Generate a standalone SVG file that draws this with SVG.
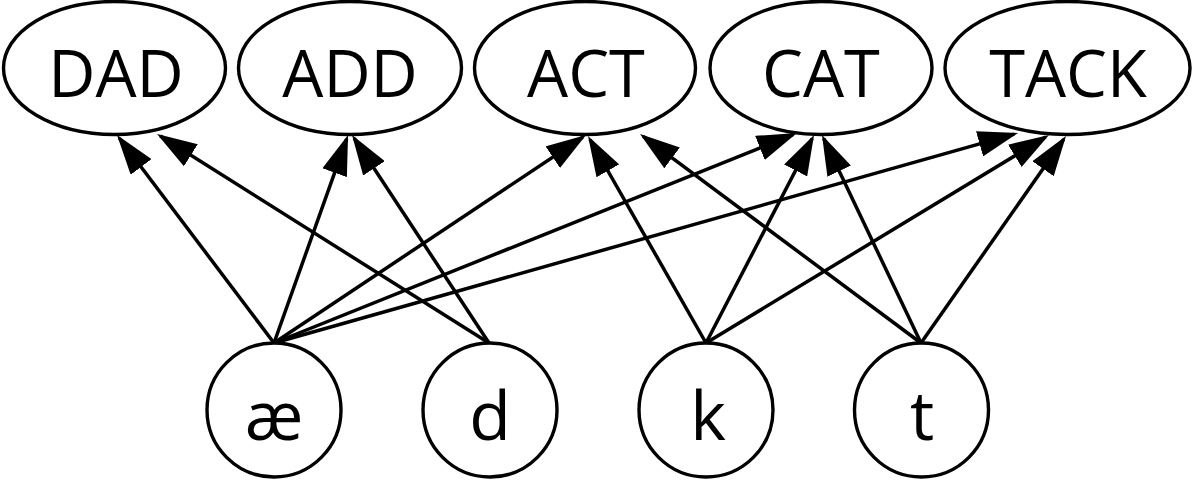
<svg xmlns="http://www.w3.org/2000/svg" width="1192" height="483" viewBox="0 0 1192 483">
  <defs>
    <marker id="arrow" markerUnits="userSpaceOnUse" markerWidth="40" markerHeight="26" viewBox="0 0 40 26" refX="36" refY="13" orient="auto">
      <path d="M0,0 L40,13 L0,26 z" fill="#000"/>
    </marker>
    <style>
      .node { fill: #fff; stroke: #000; stroke-width: 3.4; }
      .lbl { font-family: "Open Sans", "Noto Sans", "Liberation Sans", sans-serif; fill: #000; text-anchor: middle; }
      .word { font-size: 65px; }
      .phon { font-size: 68px; }
      .edge { stroke: #000; stroke-width: 3.5; fill: none; marker-end: url(#arrow); }
    </style>
  </defs>
  <rect width="1192" height="483" fill="#fff"/>
  <g id="connectors">
    <line class="edge" x1="274" y1="343" x2="119.4" y2="138.2"/>
    <line class="edge" x1="489" y1="343" x2="160.4" y2="136.1"/>
    <line class="edge" x1="274" y1="343" x2="346.7" y2="138.8"/>
    <line class="edge" x1="489" y1="343" x2="354.2" y2="138.3"/>
    <line class="edge" x1="274" y1="343" x2="582.7" y2="137.2"/>
    <line class="edge" x1="706" y1="343" x2="590.0" y2="139.5"/>
    <line class="edge" x1="921" y1="343" x2="643.2" y2="136.4"/>
    <line class="edge" x1="274" y1="343" x2="793.3" y2="134.5"/>
    <line class="edge" x1="706" y1="343" x2="812.2" y2="138.5"/>
    <line class="edge" x1="921" y1="343" x2="823.7" y2="138.6"/>
    <line class="edge" x1="274" y1="343" x2="1014.2" y2="134.1"/>
    <line class="edge" x1="706" y1="343" x2="1045.6" y2="137.1"/>
    <line class="edge" x1="921" y1="343" x2="1063.7" y2="139.3"/>
  </g>
  <g id="node-DAD">
    <ellipse class="node" cx="114.5" cy="68" rx="111" ry="66.5"/>
    <text class="lbl word" x="116" y="97">DAD</text>
  </g>
  <g id="node-ADD">
    <ellipse class="node" cx="350" cy="68" rx="111.5" ry="66.5"/>
    <text class="lbl word" x="350" y="97">ADD</text>
  </g>
  <g id="node-ACT">
    <ellipse class="node" cx="585" cy="68" rx="110.5" ry="66.5"/>
    <text class="lbl word" x="586" y="97">ACT</text>
  </g>
  <g id="node-CAT">
    <ellipse class="node" cx="821" cy="68" rx="111" ry="66.5"/>
    <text class="lbl word" x="821" y="97">CAT</text>
  </g>
  <g id="node-TACK">
    <ellipse class="node" cx="1067.5" cy="68" rx="122.5" ry="66.5"/>
    <text class="lbl word" x="1068" y="97">TACK</text>
  </g>
  <g id="node-ae">
    <circle class="node" cx="274" cy="410" r="67"/>
    <text class="lbl phon" x="274" y="440">æ</text>
  </g>
  <g id="node-d">
    <circle class="node" cx="490" cy="410" r="67"/>
    <text class="lbl phon" x="490" y="440">d</text>
  </g>
  <g id="node-k">
    <circle class="node" cx="706" cy="410" r="67"/>
    <text class="lbl phon" x="708" y="440">k</text>
  </g>
  <g id="node-t">
    <circle class="node" cx="921.5" cy="410" r="67"/>
    <text class="lbl phon" x="922" y="440">t</text>
  </g>
</svg>
